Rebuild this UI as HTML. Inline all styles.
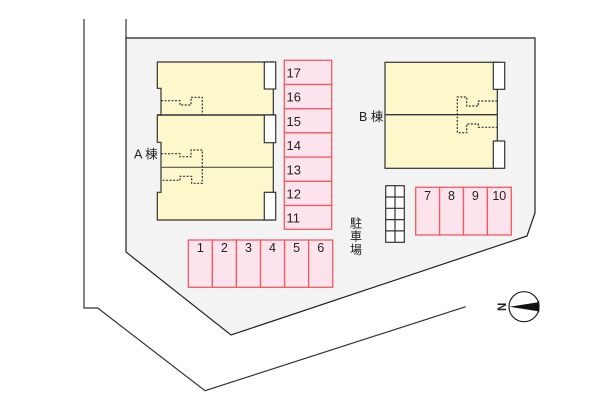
<!DOCTYPE html>
<html><head><meta charset="utf-8"><style>
html,body{margin:0;padding:0;background:#fff;}
svg{display:block;}
text{font-family:"Liberation Sans","Noto Sans CJK JP",sans-serif;fill:#222;}
</style></head><body>
<svg width="600" height="400" viewBox="0 0 600 400" xmlns="http://www.w3.org/2000/svg">
<rect width="600" height="400" fill="#fff"/>
<!-- outer road line -->
<polyline points="84,19 84,308 97.7,308 205,390.7 465.7,306.7" fill="none" stroke="#333" stroke-width="1.2"/>
<!-- lot -->
<line x1="126" y1="19" x2="126" y2="38" stroke="#333" stroke-width="1.2"/>
<polygon points="126,38 535,38 535,213 527,236 231,335 126,252" fill="#f3f3f3" stroke="#222" stroke-width="1.2"/>

<!-- Building A -->
<polygon points="157.3,62 273.3,62 273.3,220 157.3,220 157.3,192.3 161,192.3 161,142.3 157.3,142.3 157.3,115 161,115 161,88.3 157.3,88.3" fill="#fdf8cc" stroke="#333" stroke-width="1.2"/>
<line x1="157.3" y1="115" x2="275.7" y2="115" stroke="#333" stroke-width="1.6"/>
<line x1="161" y1="167.3" x2="273.3" y2="167.3" stroke="#555" stroke-width="1.2"/>
<rect x="264.3" y="62" width="11.4" height="27" fill="#fff" stroke="#333" stroke-width="1.2"/>
<rect x="264.3" y="115" width="11.4" height="27.7" fill="#fff" stroke="#333" stroke-width="1.2"/>
<rect x="264.3" y="192.3" width="11.4" height="27.7" fill="#fff" stroke="#333" stroke-width="1.2"/>
<g fill="none" stroke="#333" stroke-width="1.2" stroke-dasharray="2,1.5">
<polyline points="161,100.7 180,100.7 180,105 191,105 191,97.3 202.3,97.3 202.3,115"/>
<polyline points="161,153.7 180,153.7 180,156.7 191,156.7 191,150 202.3,150 202.3,183.3 191.7,183.3 191.7,176.3 180,176.3 180,180.3 161,180.3"/>
</g>
<text x="134" y="158.5" font-size="12.5">A 棟</text>

<!-- Building B -->
<rect x="385" y="62.3" width="112.3" height="106" fill="#fdf8cc" stroke="#333" stroke-width="1.2"/>
<line x1="385" y1="114.7" x2="497.3" y2="114.7" stroke="#333" stroke-width="1.4"/>
<rect x="493.3" y="62.3" width="11.4" height="27" fill="#fff" stroke="#333" stroke-width="1.2"/>
<rect x="493.3" y="141" width="11.4" height="27.3" fill="#fff" stroke="#333" stroke-width="1.2"/>
<g fill="none" stroke="#333" stroke-width="1.2" stroke-dasharray="2,1.5">
<polyline points="497.3,101 478.3,101 478.3,106 466.7,106 466.7,97 457.3,97 457.3,132.7 466.7,132.7 466.7,124 478.3,124 478.3,127.3 497.3,127.3"/>
</g>
<text x="359" y="121" font-size="12.5">B 棟</text>

<!-- Parking 11-17 -->
<g fill="#fde4ec" stroke="#f05a64" stroke-width="1.3">
<rect x="284.3" y="60.3" width="47.4" height="24.2"/>
<rect x="284.3" y="84.5" width="47.4" height="24.2"/>
<rect x="284.3" y="108.7" width="47.4" height="24.2"/>
<rect x="284.3" y="132.9" width="47.4" height="24.2"/>
<rect x="284.3" y="157.1" width="47.4" height="24.2"/>
<rect x="284.3" y="181.3" width="47.4" height="24.2"/>
<rect x="284.3" y="205.5" width="47.4" height="23.8"/>
</g>
<g font-size="13">
<text x="286.5" y="77.5">17</text>
<text x="286.5" y="101.7">16</text>
<text x="286.5" y="125.9">15</text>
<text x="286.5" y="150.1">14</text>
<text x="286.5" y="174.3">13</text>
<text x="286.5" y="198.5">12</text>
<text x="286.5" y="222.7">11</text>
</g>

<!-- Parking 7-10 -->
<g fill="#fde4ec" stroke="#f05a64" stroke-width="1.3">
<rect x="415.7" y="187.3" width="23.9" height="47.7"/>
<rect x="439.6" y="187.3" width="23.9" height="47.7"/>
<rect x="463.5" y="187.3" width="23.9" height="47.7"/>
<rect x="487.4" y="187.3" width="23.9" height="47.7"/>
</g>
<g font-size="12.5" text-anchor="middle">
<text x="427.6" y="200">7</text>
<text x="451.5" y="200">8</text>
<text x="475.4" y="200">9</text>
<text x="499.3" y="200">10</text>
</g>

<!-- Parking 1-6 -->
<g fill="#fde4ec" stroke="#f05a64" stroke-width="1.3">
<rect x="188.3" y="240" width="24.07" height="47.3"/>
<rect x="212.37" y="240" width="24.07" height="47.3"/>
<rect x="236.44" y="240" width="24.07" height="47.3"/>
<rect x="260.51" y="240" width="24.07" height="47.3"/>
<rect x="284.58" y="240" width="24.07" height="47.3"/>
<rect x="308.65" y="240" width="24.07" height="47.3"/>
</g>
<g font-size="12.5" text-anchor="middle">
<text x="200.3" y="252">1</text>
<text x="224.4" y="252">2</text>
<text x="248.5" y="252">3</text>
<text x="272.5" y="252">4</text>
<text x="296.6" y="252">5</text>
<text x="320.7" y="252">6</text>
</g>

<!-- bike rack -->
<g fill="#fff" stroke="#333" stroke-width="1.2">
<rect x="385.7" y="185.7" width="18.6" height="56.6"/>
</g>
<g stroke="#333" stroke-width="1.2">
<line x1="395" y1="185.7" x2="395" y2="242.3"/>
<line x1="385.7" y1="197" x2="404.3" y2="197"/>
<line x1="385.7" y1="208.3" x2="404.3" y2="208.3"/>
<line x1="385.7" y1="219.6" x2="404.3" y2="219.6"/>
<line x1="385.7" y1="230.9" x2="404.3" y2="230.9"/>
</g>

<!-- 駐車場 -->
<g font-size="12" text-anchor="middle">
<text x="356" y="227.5">駐</text>
<text x="356" y="240.5">車</text>
<text x="356" y="254">場</text>
</g>

<!-- compass -->
<circle cx="524" cy="306.7" r="15" fill="#fff" stroke="#222" stroke-width="1.2"/>
<polygon points="509.3,306.7 538.3,302.3 538.3,311.3" fill="#111"/>
<line x1="538.6" y1="301" x2="538.6" y2="312.5" stroke="#111" stroke-width="1.2"/>
<text x="0" y="0" font-size="11.5" font-weight="bold" text-anchor="middle" transform="translate(506.2,306.8) rotate(-90)">N</text>
</svg>
</body></html>
